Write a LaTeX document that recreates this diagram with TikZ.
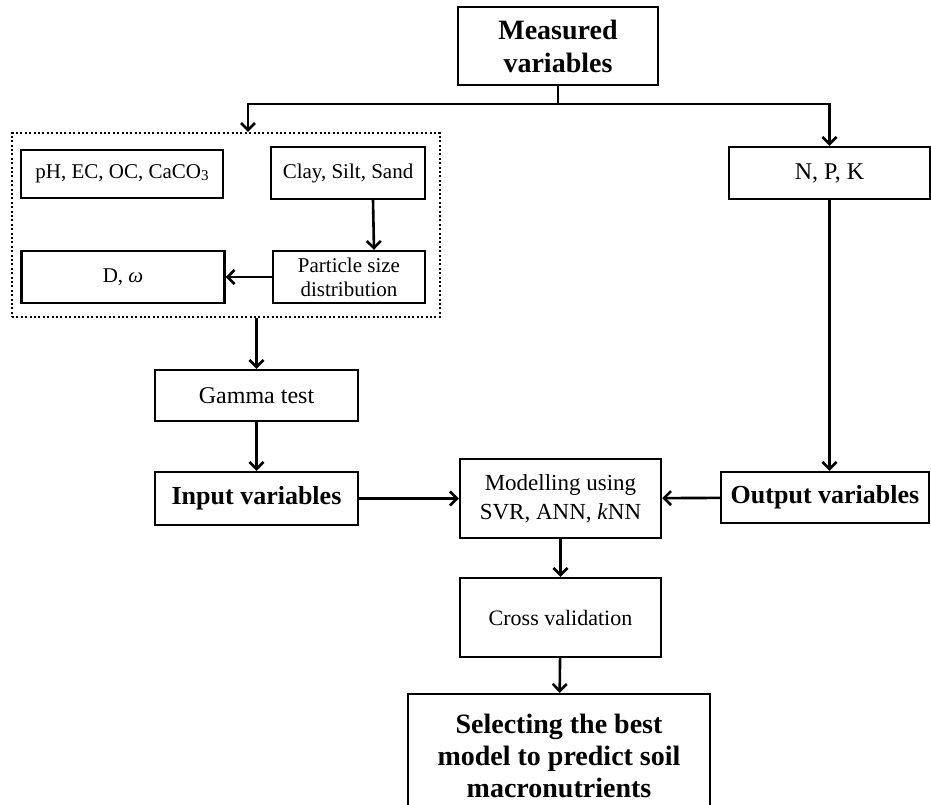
\documentclass[tikz,border=0pt]{standalone}
\usepackage{fontspec}
\setmainfont{Liberation Serif}
\usetikzlibrary{arrows.meta}

\tikzset{
  box/.style={draw, line width=2.4pt, align=center, inner sep=0pt},
  groupbox/.style={draw, line width=2.2pt, dash pattern=on 2pt off 2.4pt, inner sep=0pt},
  link/.style={line width=2.6pt, -{Straight Barb[length=7pt, width=14pt]}},
  headtext/.style={font=\fontsize{28}{33}\selectfont\bfseries},
  boldtext/.style={font=\fontsize{26}{31}\selectfont\bfseries},
  plaintext/.style={font=\fontsize{24}{29}\selectfont},
  smalltext/.style={font=\fontsize{21}{24}\selectfont}
}

\begin{document}
\begin{tikzpicture}[x=1pt, y=-1pt]

  \clip (0,0) rectangle (931,805);

  \node[box, headtext, minimum width=200pt, minimum height=78pt] (meas) at (558,46) {Measured\\variables};

  \node[groupbox, minimum width=428pt, minimum height=184pt] (group) at (226,225) {};
  \node[box, smalltext, minimum width=202pt, minimum height=48pt] (chem) at (122,174) {pH, EC, OC, CaCO\raisebox{-0.2ex}{\fontsize{15}{15}\selectfont 3}};
  \node[box, smalltext, minimum width=154pt, minimum height=52pt] (texture) at (348,173) {Clay, Silt, Sand};
  \node[box, smalltext, minimum width=152pt, minimum height=52pt] (psd) at (349,277) {Particle size\\distribution};
  \node[box, smalltext, minimum width=203pt, minimum height=52pt] (fractal) at (123,277) {D, \textit{ω}};

  \node[box, plaintext, minimum width=201pt, minimum height=52pt] (npk) at (829.5,173) {N, P, K};

  \node[box, plaintext, minimum width=203pt, minimum height=51pt] (gamma) at (256.5,395.5) {Gamma test};
  \node[box, boldtext, minimum width=203pt, minimum height=53pt] (input) at (256.5,498.5) {Input variables};
  \node[box, font=\fontsize{23}{29}\selectfont, minimum width=201pt, minimum height=79pt] (model) at (560.5,498.5) {Modelling using\\SVR, ANN, \textit{k}NN};
  \node[box, boldtext, minimum width=208pt, minimum height=51pt] (output) at (825,497.5) {Output variables};
  \node[box, font=\fontsize{22}{27}\selectfont, minimum width=201pt, minimum height=79pt] (cross) at (560.5,617.5) {Cross validation};
  \node[box, font=\fontsize{28}{32}\selectfont\bfseries, minimum width=302pt, minimum height=124pt] (select) at (559,756) {Selecting the best\\model to predict soil\\macronutrients};

  \coordinate (fork) at (558,104);
  \draw[line width=2.6pt] (meas) -- (fork);
  \draw[link] (fork) -| ([xshift=22pt]group.north);
  \draw[link] (fork) -| (npk);
  \draw[link] ([xshift=25pt]texture.south) -- ([xshift=25pt]psd.north);
  \draw[link] (psd) -- (fractal);
  \draw[link] (group.south -| gamma) -- (gamma);
  \draw[link] (gamma) -- (input);
  \draw[link] (input) -- (model);
  \draw[link] (npk) -- (npk |- output.north);
  \draw[link] (output) -- (model);
  \draw[link] (model) -- (cross);
  \draw[link] (cross) -- (select);
\end{tikzpicture}
\end{document}
